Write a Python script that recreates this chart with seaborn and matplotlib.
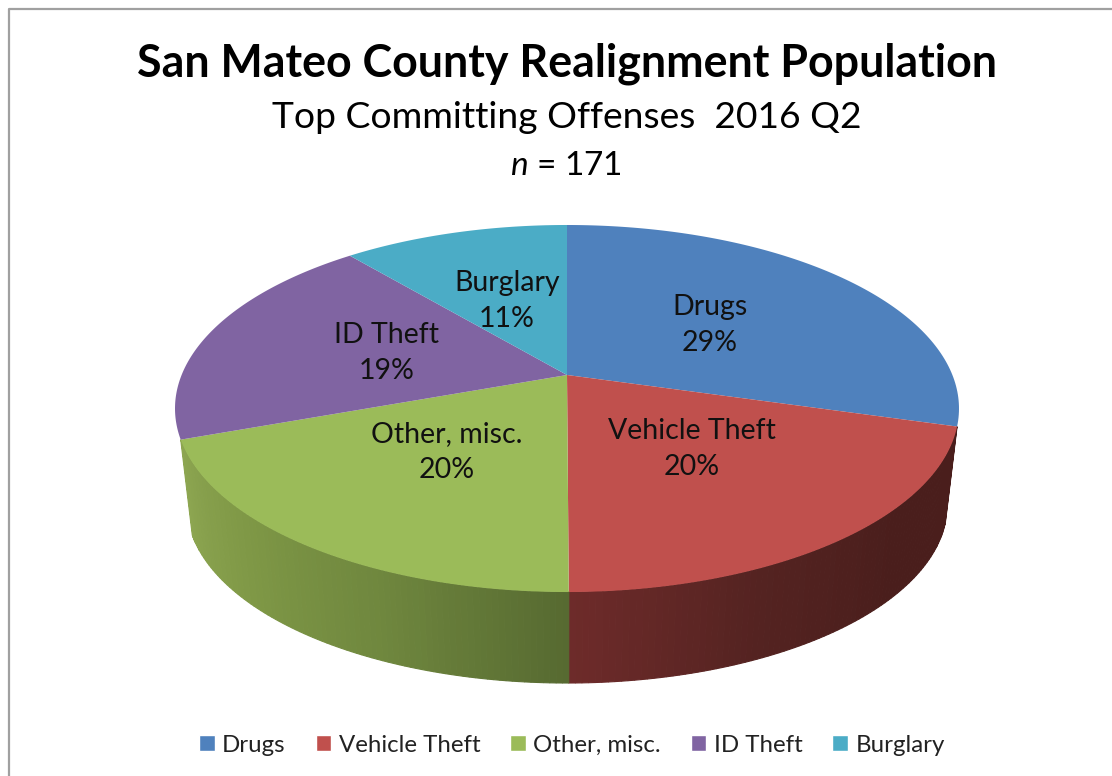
import numpy as np
import matplotlib
matplotlib.use('Agg')
import matplotlib.pyplot as plt
from matplotlib.patches import Patch
import seaborn as sns

# percent shares
offenses = ['Drugs', 'Vehicle Theft', 'Other, misc.', 'ID Theft', 'Burglary']
shares = [29.45, 20.49, 19.51, 19.45, 11.1]
colors = ['#4F81BD', '#C0504D', '#9BBB59', '#8064A2', '#4BACC6']
n_total = 171
title = 'San Mateo County Realignment Population'
subtitle = 'Top Committing Offenses  2016 Q2'

sns.set_theme(style='white')
plt.rcParams['font.family'] = ['Lato', 'DejaVu Sans']
plt.rcParams['mathtext.fontset'] = 'custom'
plt.rcParams['mathtext.it'] = 'Lato:italic'

fig = plt.figure(figsize=(11.12, 7.76), dpi=100)
ax = fig.add_axes([0, 0, 1, 1])
ax.set_xlim(0, 1112)
ax.set_ylim(776, 0)
ax.set_axis_off()

# perspective look of the disc
CX, CY = 567, 375
A, B, K = 177.4, 385.4, 0.1826
SCALE, DROP = 0.97, 97.5


def rim(theta, scale=1.0, drop=0.0):
    u, v = np.sin(theta), np.cos(theta)
    d = 1 + K * v
    return CX + scale * B * u / d, CY - scale * A * v / d + drop


frac = np.array(shares) / sum(shares)
edges = np.concatenate([[0], np.cumsum(frac)]) * 2 * np.pi

# side wall, vertical strips for the shaded look (stops run left to right)
wall = {1: ['#6E2B2A', '#542321', '#4A1E1C', '#4A1E1C'],
        2: ['#8DA651', '#7F9846', '#6F873E', '#576A31']}
for i, stops in wall.items():
    th = np.linspace(edges[i], edges[i + 1], 90)
    shades = sns.blend_palette(stops, len(th))[::-1]
    for j in range(len(th) - 1):
        x0, y0 = rim(th[j:j + 2])
        x1, y1 = rim(th[j:j + 2], SCALE, DROP)
        ax.fill(np.r_[x0, x1[::-1]], np.r_[y0, y1[::-1]], color=shades[j], lw=0.8)

# top of the pie
for i in range(len(shares)):
    th = np.linspace(edges[i], edges[i + 1], 120)
    x, y = rim(th)
    ax.fill(np.r_[CX, x], np.r_[CY, y], color=colors[i], lw=0)

# labels
label_pos = [(710, 325), (692, 449), (447, 452), (387, 353), (507, 301)]
for name, s, (lx, ly) in zip(offenses, shares, label_pos):
    ax.text(lx, ly, f'{name}\n{round(s)}%', ha='center', va='center',
            fontsize=20.5, color='#111111', linespacing=1.45)

ax.text(567, 64, title, ha='center', va='center', fontsize=32.2, fontweight='bold', color='black')
ax.text(567, 118, subtitle, ha='center', va='center', fontsize=26.8, color='black')
ax.text(566, 166, f'$n$ = {n_total}', ha='center', va='center', fontsize=24, color='black')

# chart frame, open to the right and bottom
ax.plot([9, 9, 1112], [776, 9, 9], color='#A0A0A0', lw=1.6)

handles = [Patch(facecolor=c, label=n) for c, n in zip(colors, offenses)]
ax.legend(handles=handles, ncol=5, loc='center', bbox_to_anchor=(572 / 1112, 1 - 745 / 776),
          frameon=False, fontsize=17.3, handlelength=0.65, handleheight=0.65,
          handletextpad=0.3, columnspacing=1.25, labelcolor='#222222')

fig.savefig('out.png', dpi=100)
